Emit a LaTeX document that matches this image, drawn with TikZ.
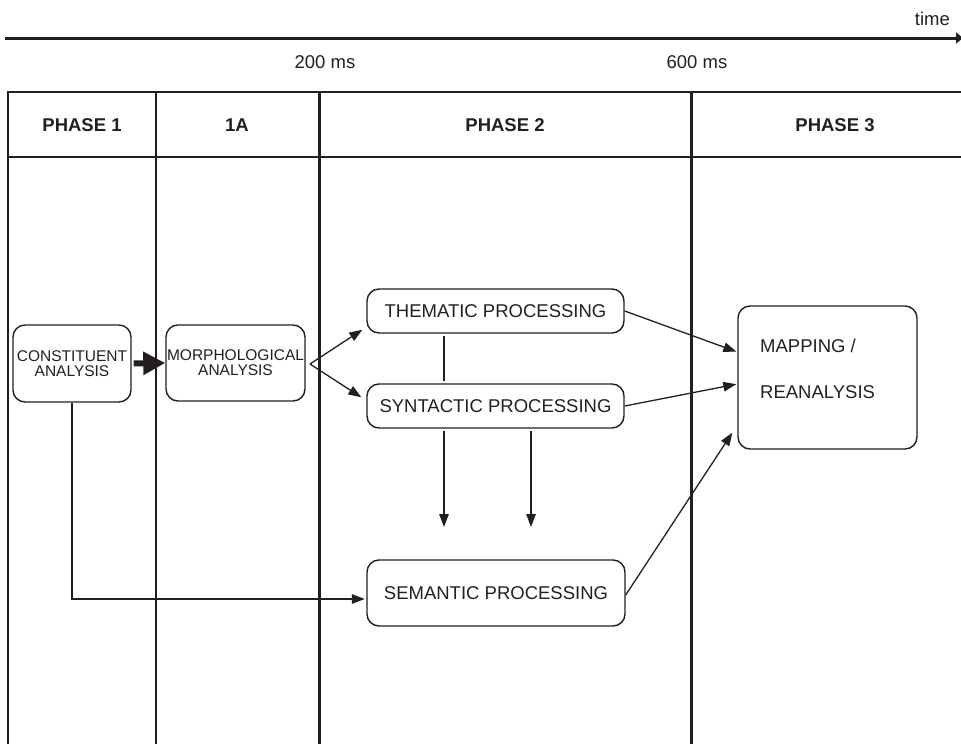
\documentclass[tikz,border=0pt]{standalone}
\usepackage{fontspec}
\setmainfont{Liberation Sans}
\usetikzlibrary{arrows.meta}
\definecolor{ink}{RGB}{35,31,32}
\begin{document}
\begin{tikzpicture}[x=1pt,y=-1pt, color=ink,
  box/.style={draw, line width=1.4pt, rounded corners=12pt, inner sep=0pt, align=center},
  proc/.style={box, minimum width=257pt, font=\fontsize{18.5}{20}\selectfont},
  small/.style={font=\fontsize{15.5}{15}\selectfont},
  head/.style={font=\bfseries\fontsize{18.5}{20}\selectfont},
  lbl/.style={font=\fontsize{18.5}{20}\selectfont, inner sep=0pt},
  tip/.style={line width=1.3pt, -{Triangle[length=13pt,width=9.5pt]}},
  thin rule/.style={line width=1.4pt},
  thick rule/.style={line width=3pt}
]
\useasboundingbox (0,0) rectangle (961,744);

% time axis
\coordinate (t0) at (5,38);
\coordinate (t1) at (963,38);
\draw[line width=3pt, -{Triangle[length=7pt,width=11pt]}] (t0) -- (t1);
\node[lbl, anchor=base east] (time) at (950,25) {time};
\node[lbl, anchor=base] (ms200) at (325,68) {200 ms};
\node[lbl, anchor=base] (ms600) at (697,68) {600 ms};

% table grid
\draw[line width=2pt] (7.3,92) -- (961,92);
\draw[thin rule] (8,157) -- (961,157);
\draw[thin rule] (8,91) -- (8,744);
\draw[thin rule] (156,91) -- (156,744);
\draw[thick rule] (319,91) -- (319,744);
\draw[thick rule] (691,91) -- (691,744);

% column headings
\node[head] (h1) at (82,125) {PHASE 1};
\node[head] (h1a) at (237,125) {1A};
\node[head] (h2) at (505,125) {PHASE 2};
\node[head] (h3) at (835,125) {PHASE 3};

% processing stages
\node[box, small, minimum width=118pt, minimum height=77pt] (con) at (72,363.5) {CONSTITUENT\\ANALYSIS};
\node[box, small, minimum width=139pt, minimum height=76pt] (morph) at (235.5,363) {MORPHOLOGICAL\\ANALYSIS};
\node[proc, minimum height=44pt] (them) at (495.5,311) {THEMATIC PROCESSING};
\node[proc, minimum height=44pt] (syn) at (495.5,406) {SYNTACTIC PROCESSING};
\node[proc, minimum width=258pt, minimum height=66pt] (sem) at (496,593) {SEMANTIC PROCESSING};
\node[box, minimum width=179pt, minimum height=143pt] (map) at (827.5,377.5) {};
\node[lbl, anchor=base west] (map1) at (760,352) {MAPPING /};
\node[lbl, anchor=base west] (map2) at (760,398) {REANALYSIS};

% connectors
\draw[line width=6pt, shorten <=2pt, -{Triangle[length=22pt,width=22pt]}] (con.east) -- (morph.west);
\coordinate (split) at (310,364);
\draw[tip] (split) -- ([shift={(-4pt,4pt)}]them.south west);
\draw[tip] (split) -- ([shift={(-5pt,-14pt)}]syn.north west);
\draw[line width=1.3pt, shorten <=2pt, shorten >=2pt] ([xshift=-51.5pt]them.south) -- ([xshift=-51.5pt]syn.north);
\coordinate (d1) at (444,527);
\coordinate (d2) at (531,527);
\draw[tip, shorten <=2pt] ([xshift=-51.5pt]syn.south) -- (d1);
\draw[tip, shorten <=2pt] ([xshift=35.5pt]syn.south) -- (d2);
\draw[tip, shorten >=1.5pt] (con.south) |- ([yshift=-6pt]sem.west);
\draw[tip, shorten >=1pt] (them.east) -- ([yshift=25.5pt]map.west);
\draw[tip, shorten >=1pt] (syn.east) -- ([yshift=-6.5pt]map.west);
\draw[tip] ([yshift=-2pt]sem.east) -- ([shift={(-5pt,17pt)}]map.south west);
\end{tikzpicture}
\end{document}
